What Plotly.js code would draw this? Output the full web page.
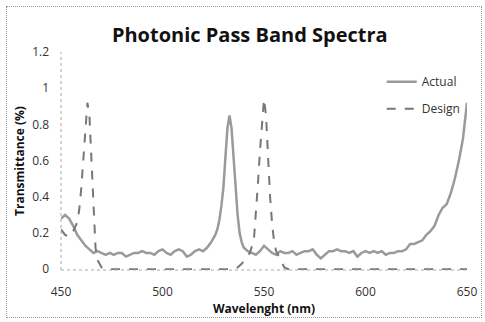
<!DOCTYPE html>
<html><head><meta charset="utf-8">
<script src="https://cdn.plot.ly/plotly-3.0.1.min.js"></script>
<style>
body{margin:0;padding:0;background:#fff;}
#wrap{position:relative;width:485px;height:322px;}
#chart{width:485px;height:322px;}
#frame{position:absolute;left:6px;top:6px;width:474px;height:310px;border:1px dotted #999;pointer-events:none;}
</style></head>
<body><div id="wrap"><div id="chart"></div><div id="frame"></div></div>
<script>
const actualX = [450,452,454,456,458,460,462,464,466,468,470,472,474,476,478,480,482,484,486,488,490,492,494,496,498,500,502,504,506,508,510,512,514,516,518,520,522,524,526,
527,528,529,530,531,532,533,534,535,536,537,538,539,540,
542,544,546,548,550,552,554,556,558,560,562,564,566,568,570,572,574,576,578,580,582,584,586,588,590,592,594,596,598,600,602,604,606,608,610,612,614,616,618,620,622,624,626,628,630,632,634,636,638,640,642,644,646,648,650];
const actualY = [0.28,0.30,0.28,0.24,0.19,0.16,0.13,0.11,0.09,0.10,0.09,0.08,0.09,0.08,0.09,0.09,0.07,0.08,0.09,0.09,0.10,0.09,0.09,0.08,0.10,0.11,0.09,0.08,0.10,0.11,0.10,0.07,0.08,0.10,0.11,0.10,0.12,0.15,0.19,
0.22,0.27,0.35,0.45,0.62,0.78,0.85,0.78,0.62,0.45,0.30,0.20,0.15,0.12,
0.10,0.09,0.08,0.10,0.13,0.11,0.09,0.08,0.10,0.09,0.09,0.10,0.08,0.09,0.10,0.10,0.11,0.08,0.06,0.08,0.10,0.10,0.11,0.10,0.10,0.09,0.10,0.07,0.09,0.10,0.09,0.10,0.09,0.10,0.08,0.09,0.09,0.10,0.10,0.11,0.14,0.14,0.15,0.16,0.19,0.21,0.24,0.30,0.34,0.36,0.42,0.50,0.60,0.72,0.92];
const designX = [450,452,454,456,458,459,460,461,462,463,464,465,466,467,468,470,472,480,490,500,510,520,530,535,537,539,541,543,545,546,547,548,549,550,551,552,553,554,555,556,558,560,562,570,580,590,600,610,620,630,640,650];
const designY = [0.22,0.19,0.18,0.21,0.26,0.33,0.45,0.62,0.80,0.92,0.85,0.60,0.30,0.12,0.05,0.01,0,0,0,0,0,0,0,0,0.01,0.03,0.06,0.09,0.16,0.30,0.47,0.65,0.82,0.94,0.85,0.60,0.40,0.25,0.15,0.10,0.05,0.01,0,0,0,0,0,0,0,0,0,0];
const seriesNames = ['Actual','Design'];
const titleText = 'Photonic Pass Band Spectra';
const xTitle = 'Wavelenght (nm)';
const yTitle = 'Transmittance (%)';
const xTicks = [450,500,550,600,650];
const yTicks = [0,0.2,0.4,0.6,0.8,1,1.2];

const F = 'Open Sans, Liberation Sans, sans-serif';
const traces = [
 {x: actualX, y: actualY, name: seriesNames[0], mode:'lines', legendgroup:'a',
  line:{color:'#9a9a9a', width:2.5}},
 {x: designX, y: designY, name: seriesNames[1], mode:'lines', legendgroup:'d',
  line:{color:'#777', width:2, dash:'dash'}}
];
const layout = {
 width:485, height:322,
 margin:{l:61, r:18, t:52, b:52},
 paper_bgcolor:'rgba(0,0,0,0)', plot_bgcolor:'rgba(0,0,0,0)',
 title:{text:'<b>'+titleText+'</b>', font:{family:F, size:20, color:'#111'}, x:0.515, xanchor:'center', y:0.89, yanchor:'middle'},
 xaxis:{range:[450,650], tickvals:xTicks, showgrid:false, zeroline:false, showline:false, ticks:'',
  ticklabelstandoff:13,
  tickfont:{family:F, size:12, color:'#333'},
  title:{text:'<b>'+xTitle+'</b>', font:{family:F, size:12, color:'#111'}, standoff:5}},
 yaxis:{range:[-0.004,1.2], tickvals:yTicks, showgrid:false, zeroline:false, showline:false, ticks:'',
  ticklabelstandoff:11,
  tickfont:{family:F, size:12, color:'#333'},
  title:{text:'<b>'+yTitle+'</b>', font:{family:F, size:12, color:'#111'}, standoff:4}},
 showlegend:true,
 legend:{x:0.79, xanchor:'left', y:0.93, yanchor:'top', bgcolor:'rgba(0,0,0,0)',
  font:{family:F, size:12, color:'#333'}, traceorder:'grouped', tracegroupgap:8},
 shapes:[
  {type:'line', xref:'paper', yref:'paper', x0:0, x1:0, y0:0, y1:1, line:{color:'#aaa', width:1, dash:'dot'}},
  {type:'line', xref:'paper', yref:'paper', x0:0, x1:1, y0:0, y1:0, line:{color:'#aaa', width:1, dash:'dot'}}
 ]
};
Plotly.newPlot('chart', traces, layout, {displayModeBar:false, staticPlot:true});
</script></body></html>
